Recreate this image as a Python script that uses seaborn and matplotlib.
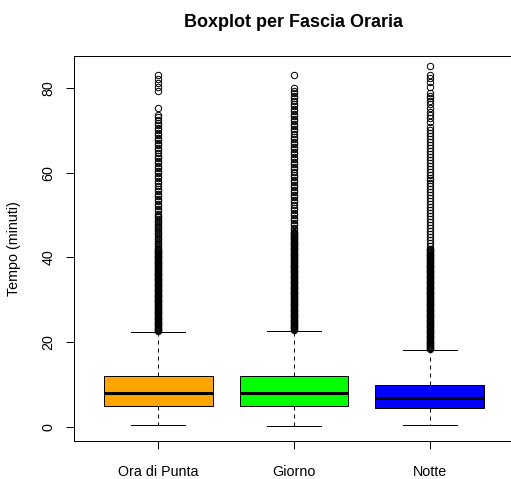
import matplotlib
matplotlib.use("Agg")
import matplotlib.pyplot as plt
import pandas as pd
import seaborn as sns

plt.rcParams["font.family"] = ["Liberation Sans", "DejaVu Sans"]

fasce = ["Ora di Punta", "Giorno", "Notte"]
colori = ["#FFA500", "#00FF00", "#0000FF"]

# summary statistics per time band (minutes)
baffo_inf = [0.4, 0.2, 0.4]
primo_quartile = [4.8, 4.8, 4.4]
mediana = [8.0, 8.0, 6.9]
terzo_quartile = [11.9, 12.0, 9.9]
baffo_sup = [22.4, 22.6, 18.1]

# trips beyond the upper whisker
outlier_ora_punta = [
    83.2, 82.3, 81.3, 80.3, 79.3, 75.3,
    73.7, 73.1, 72.5, 71.9, 71.3, 70.7, 70.1, 69.5, 68.9, 68.3, 67.7, 67.1,
    66.5, 65.9, 65.3, 64.7, 64.1, 63.5, 62.9, 62.3, 61.7, 61.1, 60.5, 59.9,
    59.3, 58.7, 58.1, 57.5, 56.9, 56.3, 55.7, 55.1, 54.5, 53.9, 53.3, 52.7,
    52.1, 51.5, 50.9, 50.3,
    49.9, 49.5, 49.1, 48.7, 48.3, 47.9, 47.5, 47.1, 46.7, 46.3, 45.9, 45.5,
    45.1, 44.7, 44.3, 43.9, 43.5, 43.1, 42.7, 42.3,
    42.0,
    41.8, 41.6, 41.4, 41.2, 41.0, 40.8, 40.6, 40.4, 40.2, 40.0,
    39.8, 39.6, 39.4, 39.2, 39.0, 38.8, 38.6, 38.4, 38.2, 38.0,
    37.8, 37.6, 37.4, 37.2, 37.0, 36.8, 36.6, 36.4, 36.2, 36.0,
    35.8, 35.6, 35.4, 35.2, 35.0, 34.8, 34.6, 34.4, 34.2, 34.0,
    33.8, 33.6, 33.4, 33.2, 33.0, 32.8, 32.6, 32.4, 32.2, 32.0,
    31.8, 31.6, 31.4, 31.2, 31.0, 30.8, 30.6, 30.4, 30.2, 30.0,
    29.8, 29.6, 29.4, 29.2, 29.0, 28.8, 28.6, 28.4, 28.2, 28.0,
    27.8, 27.6, 27.4, 27.2, 27.0, 26.8, 26.6, 26.4, 26.2, 26.0,
    25.8, 25.6, 25.4, 25.2, 25.0, 24.8, 24.6, 24.4, 24.2, 24.0,
    23.8, 23.6, 23.4, 23.2, 23.0, 22.8, 22.6,
]
outlier_giorno = [
    83.1,
    80.0, 79.4, 78.8, 78.2, 77.6, 77.0, 76.4, 75.8, 75.2, 74.6, 74.0, 73.4,
    72.8, 72.2, 71.6, 71.0, 70.4, 69.8, 69.2, 68.6, 68.0, 67.4, 66.8, 66.2,
    65.6, 65.0, 64.4, 63.8, 63.2, 62.6, 62.0, 61.4, 60.8, 60.2, 59.6, 59.0,
    58.4, 57.8, 57.2, 56.6, 56.0, 55.4, 54.8, 54.2, 53.6, 53.0, 52.4, 51.8,
    51.2, 50.6, 50.0, 49.4, 48.8, 48.2, 47.6, 47.0, 46.4,
    46.1,
    45.9, 45.7, 45.5, 45.3, 45.1, 44.9, 44.7, 44.5, 44.3, 44.1,
    43.9, 43.7, 43.5, 43.3, 43.1, 42.9, 42.7, 42.5, 42.3, 42.1,
    41.9, 41.7, 41.5, 41.3, 41.1, 40.9, 40.7, 40.5, 40.3, 40.1,
    39.9, 39.7, 39.5, 39.3, 39.1, 38.9, 38.7, 38.5, 38.3, 38.1,
    37.9, 37.7, 37.5, 37.3, 37.1, 36.9, 36.7, 36.5, 36.3, 36.1,
    35.9, 35.7, 35.5, 35.3, 35.1, 34.9, 34.7, 34.5, 34.3, 34.1,
    33.9, 33.7, 33.5, 33.3, 33.1, 32.9, 32.7, 32.5, 32.3, 32.1,
    31.9, 31.7, 31.5, 31.3, 31.1, 30.9, 30.7, 30.5, 30.3, 30.1,
    29.9, 29.7, 29.5, 29.3, 29.1, 28.9, 28.7, 28.5, 28.3, 28.1,
    27.9, 27.7, 27.5, 27.3, 27.1, 26.9, 26.7, 26.5, 26.3, 26.1,
    25.9, 25.7, 25.5, 25.3, 25.1, 24.9, 24.7, 24.5, 24.3, 24.1,
    23.9, 23.7, 23.5, 23.3, 23.1, 22.9,
]
outlier_notte = [
    85.2, 83.1, 82.4, 81.6, 80.4, 78.8, 78.2, 77.6, 77.0, 76.4, 75.3, 74.5,
    73.7, 72.9, 72.1, 70.9, 70.1, 69.4, 68.7, 68.0, 67.3, 66.6, 65.9, 65.2,
    64.5, 63.8, 63.1, 62.4, 61.7, 61.0, 60.3, 59.6, 58.9, 58.2, 57.5, 56.8,
    56.1, 55.4, 54.7, 54.0, 53.3, 52.6, 51.9, 51.2, 50.5, 49.8, 49.1, 48.4,
    47.7, 47.0, 46.3, 45.6, 44.9, 44.2, 43.5, 42.8,
    42.1,
    41.9, 41.7, 41.5, 41.3, 41.1, 40.9, 40.7, 40.5, 40.3, 40.1,
    39.9, 39.7, 39.5, 39.3, 39.1, 38.9, 38.7, 38.5, 38.3, 38.1,
    37.9, 37.7, 37.5, 37.3, 37.1, 36.9, 36.7, 36.5, 36.3, 36.1,
    35.9, 35.7, 35.5, 35.3, 35.1, 34.9, 34.7, 34.5, 34.3, 34.1,
    33.9, 33.7, 33.5, 33.3, 33.1, 32.9, 32.7, 32.5, 32.3, 32.1,
    31.9, 31.7, 31.5, 31.3, 31.1, 30.9, 30.7, 30.5, 30.3, 30.1,
    29.9, 29.7, 29.5, 29.3, 29.1, 28.9, 28.7, 28.5, 28.3, 28.1,
    27.9, 27.7, 27.5, 27.3, 27.1, 26.9, 26.7, 26.5, 26.3, 26.1,
    25.9, 25.7, 25.5, 25.3, 25.1, 24.9, 24.7, 24.5, 24.3, 24.1,
    23.9, 23.7, 23.5, 23.3, 23.1, 22.9, 22.7, 22.5, 22.3, 22.1,
    21.9, 21.7, 21.5, 21.3, 21.1, 20.9, 20.7, 20.5, 20.3, 20.1,
    19.9, 19.7, 19.5, 19.3, 19.1, 18.9, 18.7, 18.5, 18.3,
]
outliers = [outlier_ora_punta, outlier_giorno, outlier_notte]

# Rebuild a sample per band whose quartiles, whiskers and fliers are exactly
# the values above (each quartile value carries an equal block of trips).
PESO = 400
righe = []
for i, fascia in enumerate(fasce):
    valori = ([baffo_inf[i]] + [primo_quartile[i]] * PESO + [mediana[i]] * PESO
              + [terzo_quartile[i]] * PESO + [baffo_sup[i]] + outliers[i])
    righe += [(fascia, v) for v in valori]
df = pd.DataFrame(righe, columns=["Fascia", "Tempo"])

fig = plt.figure(figsize=(5.11, 4.79), dpi=100)
ax = fig.add_axes([74 / 511, 1 - 441 / 479, 440 / 511, 385 / 479])

lw = 0.72
sns.boxplot(
    data=df, x="Fascia", y="Tempo", hue="Fascia", order=fasce, hue_order=fasce,
    palette=dict(zip(fasce, colori)), saturation=1, width=0.8, legend=False,
    linecolor="black", linewidth=lw, whis=1.5, ax=ax,
    medianprops={"color": "black", "linewidth": 2.2},
    whiskerprops={"color": "black", "linewidth": lw, "linestyle": (0, (4, 4))},
    capprops={"color": "black", "linewidth": lw},
    boxprops={"edgecolor": "black", "linewidth": lw},
    flierprops={"marker": "o", "markerfacecolor": "none",
                "markeredgecolor": "black", "markersize": 4.6,
                "markeredgewidth": lw},
)

ax.set_xlim(-0.62, 2.62)
ax.set_ylim(-3.38, 87.63)
ax.set_yticks([0, 20, 40, 60, 80])
ax.set_xlabel("")
ax.set_ylabel("")
for s in ax.spines.values():
    s.set_linewidth(lw)
    s.set_color("black")
ax.tick_params(axis="both", direction="out", length=5.8, width=lw,
               labelsize=10.3, colors="black")
ax.tick_params(axis="y", pad=7.6)
ax.tick_params(axis="x", pad=11.8)
for lab in ax.get_yticklabels():
    lab.set_rotation(90)
    lab.set_verticalalignment("center")

fig.text(294 / 511, 1 - 26.7 / 479, "Boxplot per Fascia Oraria",
         ha="center", va="baseline", fontsize=13.0, fontweight="bold")
fig.text(14.5 / 511, 1 - 249 / 479, "Tempo (minuti)", rotation=90,
         ha="center", va="center", fontsize=10.3)

fig.savefig("out.png", dpi=100, facecolor="white")
